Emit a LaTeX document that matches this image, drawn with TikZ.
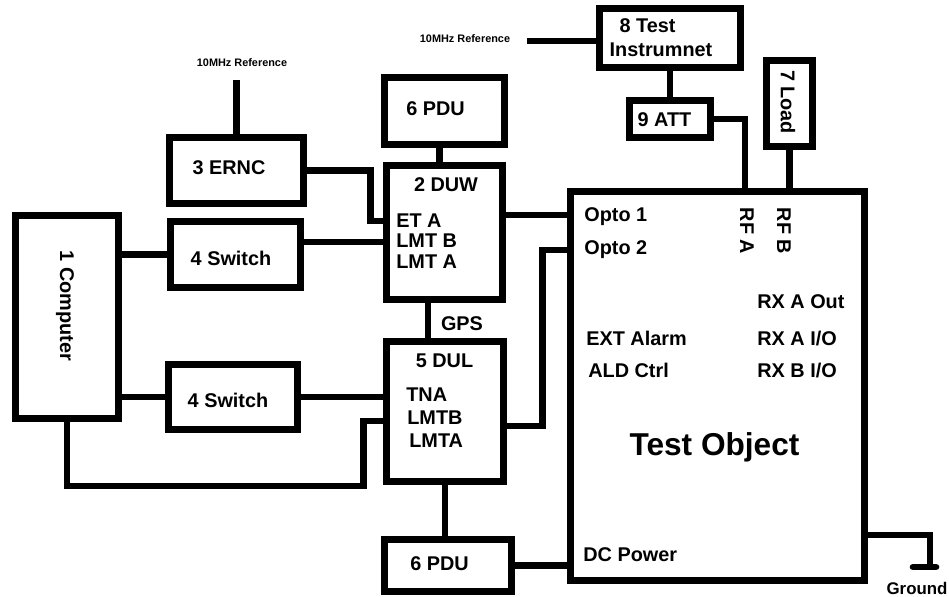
\documentclass[tikz,border=0pt]{standalone}
\usepackage{fontspec}
\setmainfont{Liberation Sans}
\usetikzlibrary{calc}
\begin{document}
\begin{tikzpicture}[x=0.02cm,y=-0.02cm,
  blk/.style={draw,line width=3.8pt,inner sep=0pt},
  wire/.style={line width=3.8pt},
  lbl/.style={font=\bfseries\fontsize{11.3}{13}\selectfont,inner sep=0pt},
  lft/.style={lbl,anchor=west},
  tiny/.style={font=\bfseries\fontsize{6.2}{7}\selectfont,inner sep=0pt}]
\useasboundingbox (0,0) rectangle (949,596);
\node[blk,minimum width=2.06cm,minimum height=4.06cm] (comp) at (67,317) {};
\node[blk,minimum width=2.68cm,minimum height=1.32cm] (ernc) at (236.5,170.5) {};
\node[blk,minimum width=2.60cm,minimum height=1.32cm] (swa) at (235.5,254.5) {};
\node[blk,minimum width=2.58cm,minimum height=1.30cm] (swb) at (233,397) {};
\node[blk,minimum width=2.40cm,minimum height=1.34cm] (pdua) at (444.5,111) {};
\node[blk,minimum width=2.32cm,minimum height=2.68cm] (duw) at (444.5,232.5) {};
\node[blk,minimum width=2.34cm,minimum height=2.80cm] (dul) at (445,411.5) {};
\node[blk,minimum width=2.54cm,minimum height=1.04cm] (pdub) at (448,565.5) {};
\node[blk,minimum width=5.88cm,minimum height=7.78cm] (tobj) at (717.5,386) {};
\node[blk,minimum width=2.82cm,minimum height=1.18cm] (tins) at (670,38) {};
\node[blk,minimum width=1.62cm,minimum height=0.74cm] (att) at (670,119) {};
\node[blk,minimum width=0.92cm,minimum height=1.72cm] (load) at (789.5,103.5) {};

\node[lbl,rotate=-90] (tcomp) at (65,306) {1 Computer};
\node[lbl] (ternc) at (229,168) {3 ERNC};
\node[lbl] (tswa) at (231,258) {4 Switch};
\node[lbl] (tswb) at (228,400) {4 Switch};
\node[lbl] (tpdua) at (435.5,109) {6 PDU};
\node[lbl] (tduw) at (446,185) {2 DUW};
\node[lft] (teta) at (396,221) {ET A};
\node[lft] (tlmtb) at (396,241) {LMT B};
\node[lft] (tlmta) at (396,262) {LMT A};
\node[lbl] (tgps) at (462,324) {GPS};
\node[lbl] (tdul) at (444.5,361) {5 DUL};
\node[lft] (ttna) at (406,395) {TNA};
\node[lft] (tlmtbl) at (407,418) {LMTB};
\node[lft] (tlmtal) at (409,441) {LMTA};
\node[lbl] (tpdub) at (439.5,564) {6 PDU};
\node[lft] (topa) at (584,217) {Opto 1};
\node[lft] (topb) at (584,250) {Opto 2};
\node[lbl,rotate=-90] (trfa) at (747,231) {RF A};
\node[lbl,rotate=-90] (trfb) at (784,231) {RF B};
\node[lbl,rotate=-90] (tload) at (788,102) {7 Load};
\node[lbl] (tatt) at (664.5,120) {9 ATT};
\node[lbl] (ttest) at (647.5,26) {8 Test};
\node[lbl] (tinst) at (661,50) {Instrumnet};
\node[lft] (trxo) at (757,302) {RX A Out};
\node[lft] (text) at (586,338) {EXT Alarm};
\node[lft] (tald) at (588,370) {ALD Ctrl};
\node[lft] (trxa) at (757,338) {RX A I/O};
\node[lft] (trxb) at (757,370) {RX B I/O};
\node[font=\bfseries\fontsize{18}{20}\selectfont,inner sep=0pt] (tobjt) at (714.5,447) {Test Object};
\node[lft] (tdc) at (583,555) {DC Power};
\node[font=\bfseries\fontsize{9.6}{11}\selectfont,inner sep=0pt] (tgnd) at (917,588) {Ground};
\node[tiny] (trefa) at (242,63) {10MHz Reference};
\node[tiny] (trefb) at (465,39) {10MHz Reference};

\coordinate (refa) at (236,80);
\coordinate (refb) at (527,41);
\coordinate (gnd) at (930,567);
\coordinate (lmtb) at ($(duw.west)+(0,9.5)$);
\coordinate (opto1) at ($(tobj.west)+(0,-171)$);
\coordinate (opto2) at ($(tobj.west)+(0,-136)$);
\coordinate (gps) at ($(duw.south)+(-16.5,0)$);
\coordinate (lmtbl) at ($(dul.west)+(0,9.5)$);
\coordinate (lmtad) at ($(dul.east)+(0,14.5)$);
\coordinate (rfa) at ($(tobj.north)+(27.5,0)$);

\draw[wire] (ernc.north) -- (ernc.north |- refa);
\draw[wire] (refb) -- (refb -| tins.west);
\draw[wire] (tins.south) -- (att.north);
\draw[wire] (att.east) -| (rfa);
\draw[wire] (load.south) -- (load.south |- tobj.north);
\draw[wire] ($(pdua.south)+(-5,0)$) -- ($(duw.north)+(-5,0)$);
\draw[wire] (ernc.east) -| ($(duw.west)+(-13,-11.5)$) -- ($(duw.west)+(0,-11.5)$);
\draw[wire] (lmtb) -- (lmtb -| swa.east);
\draw[wire] (swa.west) -- (swa.west -| comp.east);
\draw[wire] (opto1) -- (opto1 -| duw.east);
\draw[wire] (gps) -- (gps |- dul.north);
\draw[wire] (swb.west) -- (swb.west -| comp.east);
\draw[wire] (swb.east) -- (swb.east -| dul.west);
\draw[wire] (comp.south) |- ($(lmtbl)+(-20,65)$) |- (lmtbl);
\draw[wire] (lmtad) -| ($(opto2)+(-25,0)$) -- (opto2);
\draw[wire] (dul.south) -- (dul.south |- pdub.north);
\draw[wire] (pdub.east) -- (pdub.east -| tobj.west);
\draw[wire] ($(tobj.east)+(0,149)$) -| (gnd);
\draw[wire,line cap=round] ($(gnd)+(-17,0)$) -- ($(gnd)+(6,0)$);
\end{tikzpicture}
\end{document}
